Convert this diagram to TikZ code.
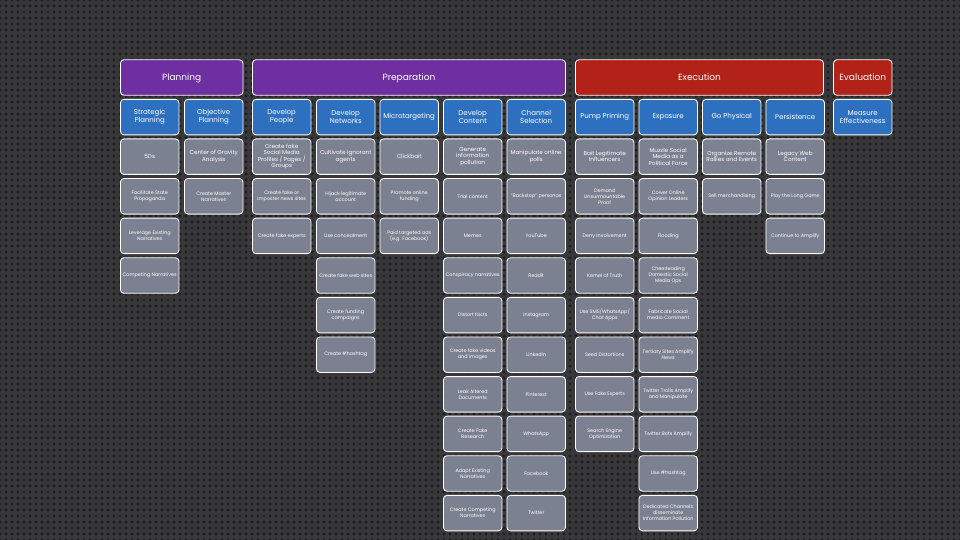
\documentclass[tikz,border=0pt]{standalone}
\usepackage{fontspec}
\setmainfont{Poppins}
\usetikzlibrary{patterns.meta}
\definecolor{bgdark}{HTML}{38383A}
\definecolor{bgdot}{HTML}{1F1F21}
\definecolor{phasepurple}{HTML}{6E2FA0}
\definecolor{phasered}{HTML}{B22218}
\definecolor{stepblue}{HTML}{2E70C0}
\definecolor{itemgray}{HTML}{7B8190}
\newcommand\itembigfont{\fontsize{5.7}{6.3}\selectfont}
\newcommand\itemsmallfont{\fontsize{4.9}{6}\selectfont}
\begin{document}
\begin{tikzpicture}[x=1pt, y=-1pt,
	box/.style={draw=white, line width=0.9pt, rounded corners=3.5pt, anchor=north west, text=white, align=center, inner sep=1pt, minimum width=58.5pt, minimum height=35.5pt},
	phase/.style={box, font=\fontsize{9}{11}\selectfont, text height=0.7em, text depth=0em},
	stepbox/.style={box, fill=stepblue, font=\fontsize{7}{7.8}\selectfont},
	item/.style={box, fill=itemgray}]
	\def\top{59.3}
	\def\pitch{39.6}
	\fill[bgdark] (0,0) rectangle (960,540);
	\fill[pattern={Dots[distance=6pt, radius=1.6pt]}, pattern color=bgdot] (0,0) rectangle (960,540);
	\useasboundingbox (0,0) rectangle (960,540);
	\node[phase, fill=phasepurple, minimum width=122.5pt] (plan) at (120,\top) {Planning};
	\node[phase, fill=phasepurple, minimum width=313pt] (prep) at (252,\top) {Preparation};
	\node[phase, fill=phasered, minimum width=248pt] (exec) at (575,\top) {Execution};
	\node[phase, fill=phasered] (eval) at (833,\top) {Evaluation};
	\node[stepbox] (s12) at (833,\top+\pitch) {Measure\\Effectiveness};
	\foreach \c/\x/\step/\items in {
		1/120/{Strategic\\Planning}/{{5Ds},{Facilitate State\\Propaganda},{Leverage Existing\\Narratives},{Competing Narratives}},
		2/184/{Objective\\Planning}/{{Center of Gravity\\Analysis},{Create Master\\Narratives}},
		3/252/{Develop\\People}/{{Create fake\\Social Media\\Profiles / Pages /\\Groups},{Create fake or\\imposter news sites},{Create fake experts}},
		4/316/{Develop\\Networks}/{{Cultivate ignorant\\agents},{Hijack legitimate\\account},{Use concealment},{Create fake web sites},{Create funding\\campaigns},{Create \#hashtag}},
		5/379.5/{Microtargeting}/{{Clickbait},{Promote online\\funding},{Paid targeted ads\\(e.g. Facebook)}},
		6/443/{Develop\\Content}/{{Generate\\information\\pollution},{Trial content},{Memes},{Conspiracy narratives},{Distort facts},{Create fake videos\\and images},{Leak Altered\\Documents},{Create Fake\\Research},{Adapt Existing\\Narratives},{Create Competing\\Narratives}},
		7/506.5/{Channel\\Selection}/{{Manipulate online\\polls},{“Backstop” personas},{YouTube},{Reddit},{Instagram},{LinkedIn},{Pinterest},{WhatsApp},{Facebook},{Twitter}},
		8/575/{Pump Priming}/{{Bait Legitimate\\Influencers},{Demand\\Unsurmountable\\Proof},{Deny Involvement},{Kernel of Truth},{Use SMS/WhatsApp/\\Chat Apps},{Seed Distortions},{Use Fake Experts},{Search Engine\\Optimization}},
		9/638.5/{Exposure}/{{Muzzle Social\\Media as a\\Political Force},{Cower Online\\Opinion Leaders},{Flooding},{Cheerleading\\Domestic Social\\Media Ops},{Fabricate Social\\media Comment},{Tertiary Sites Amplify\\News},{Twitter Trolls Amplify\\and Manipulate},{Twitter Bots Amplify},{Use \#hashtag},{Dedicated Channels\\disseminate\\Information Pollution}},
		10/702/{Go Physical}/{{Organize Remote\\Rallies and Events},{Sell merchandising}},
		11/765.5/{Persistence}/{{Legacy Web\\Content},{Play the Long Game},{Continue to Amplify}}}{
		\node[stepbox] (s\c) at (\x,\top+\pitch) {\step};
		\foreach \t [count=\r] in \items {
			\ifnum\r=1 \let\ifont\itembigfont\else\let\ifont\itemsmallfont\fi
			\pgfmathsetmacro\y{\top+\pitch*(\r+1)}
			\node[item, font=\ifont] (s\c-\r) at (\x,\y) {\t};
		}
	}
\end{tikzpicture}
\end{document}
